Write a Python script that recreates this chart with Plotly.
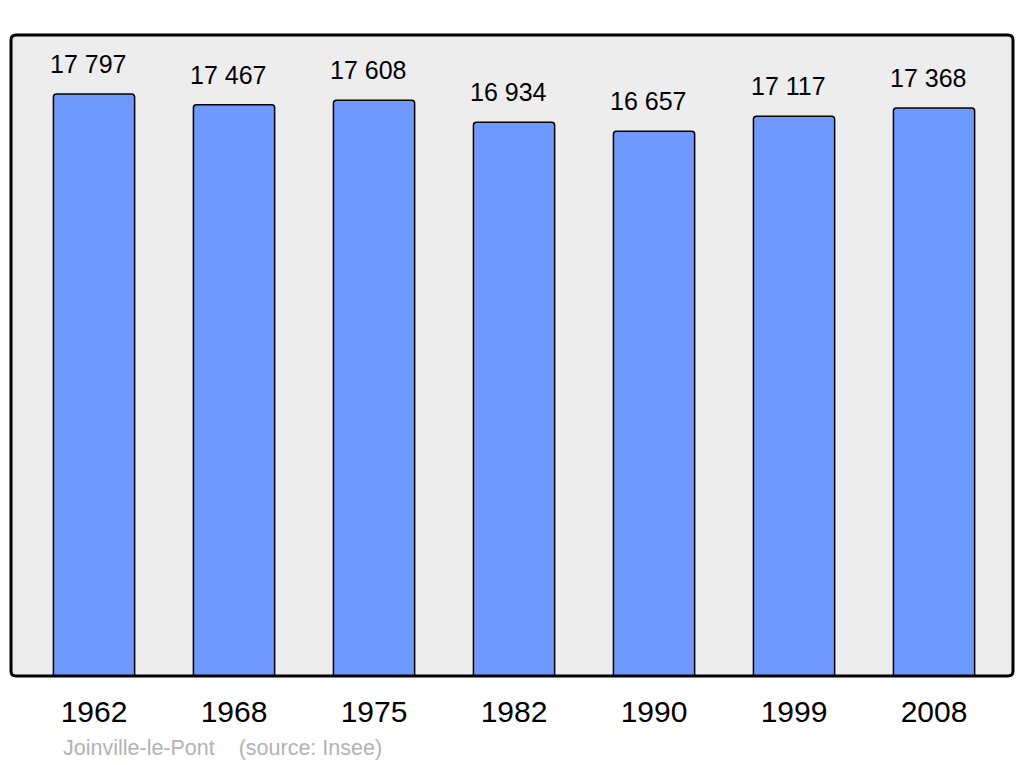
import plotly.graph_objects as go

years = ["1962", "1968", "1975", "1982", "1990", "1999", "2008"]
population = [17797, 17467, 17608, 16934, 16657, 17117, 17368]
value_labels = ["17 797", "17 467", "17 608", "16 934", "16 657", "17 117", "17 368"]
source_text = "Joinville-le-Pont &nbsp;&nbsp;&nbsp;(source: Insee)"

fig = go.Figure()
fig.add_trace(go.Bar(
    x=years, y=population,
    width=0.58,
    marker=dict(color="#7099ff", line=dict(color="#000000", width=1.5), cornerradius=3),
    hoverinfo="skip",
))

# value labels above each bar (x as category index)
for i, (val, lab) in enumerate(zip(population, value_labels)):
    fig.add_annotation(x=i, y=val, text=lab, showarrow=False, yshift=30, xshift=-6,
                       font=dict(family="Liberation Sans, Arial", size=25, color="#000000"))

fig.add_annotation(xref="paper", yref="paper", x=0.05, y=-0.112, xanchor="left", yanchor="middle",
                   text=source_text, showarrow=False,
                   font=dict(family="Liberation Sans, Arial", size=21.5, color="#b3b3b3"))

# frame around plotting area, slightly rounded corners
rx, ry = 5 / 1002, 5 / 641
frame = (f"M {rx},0 L {1-rx},0 Q 1,0 1,{ry} L 1,{1-ry} Q 1,1 {1-rx},1 "
         f"L {rx},1 Q 0,1 0,{1-ry} L 0,{ry} Q 0,0 {rx},0 Z")
fig.add_shape(type="path", xref="paper", yref="paper", path=frame,
              line=dict(color="#000000", width=3), layer="above")

fig.update_layout(
    width=1024, height=765,
    margin=dict(l=11, r=11, t=35, b=89),
    plot_bgcolor="#ededed", paper_bgcolor="#ffffff",
    showlegend=False,
    xaxis=dict(type="category", range=[-0.593, 6.564], showgrid=False, zeroline=False,
               showline=False, ticks="", ticklabelstandoff=15,
               tickfont=dict(family="Liberation Sans, Arial", size=30, color="#000000")),
    yaxis=dict(range=[0, 19600], showgrid=False, zeroline=False, showticklabels=False,
               showline=False, ticks=""),
)

fig.write_html("out.html", config={"displayModeBar": False},
               post_script="document.body.style.margin='0';")
